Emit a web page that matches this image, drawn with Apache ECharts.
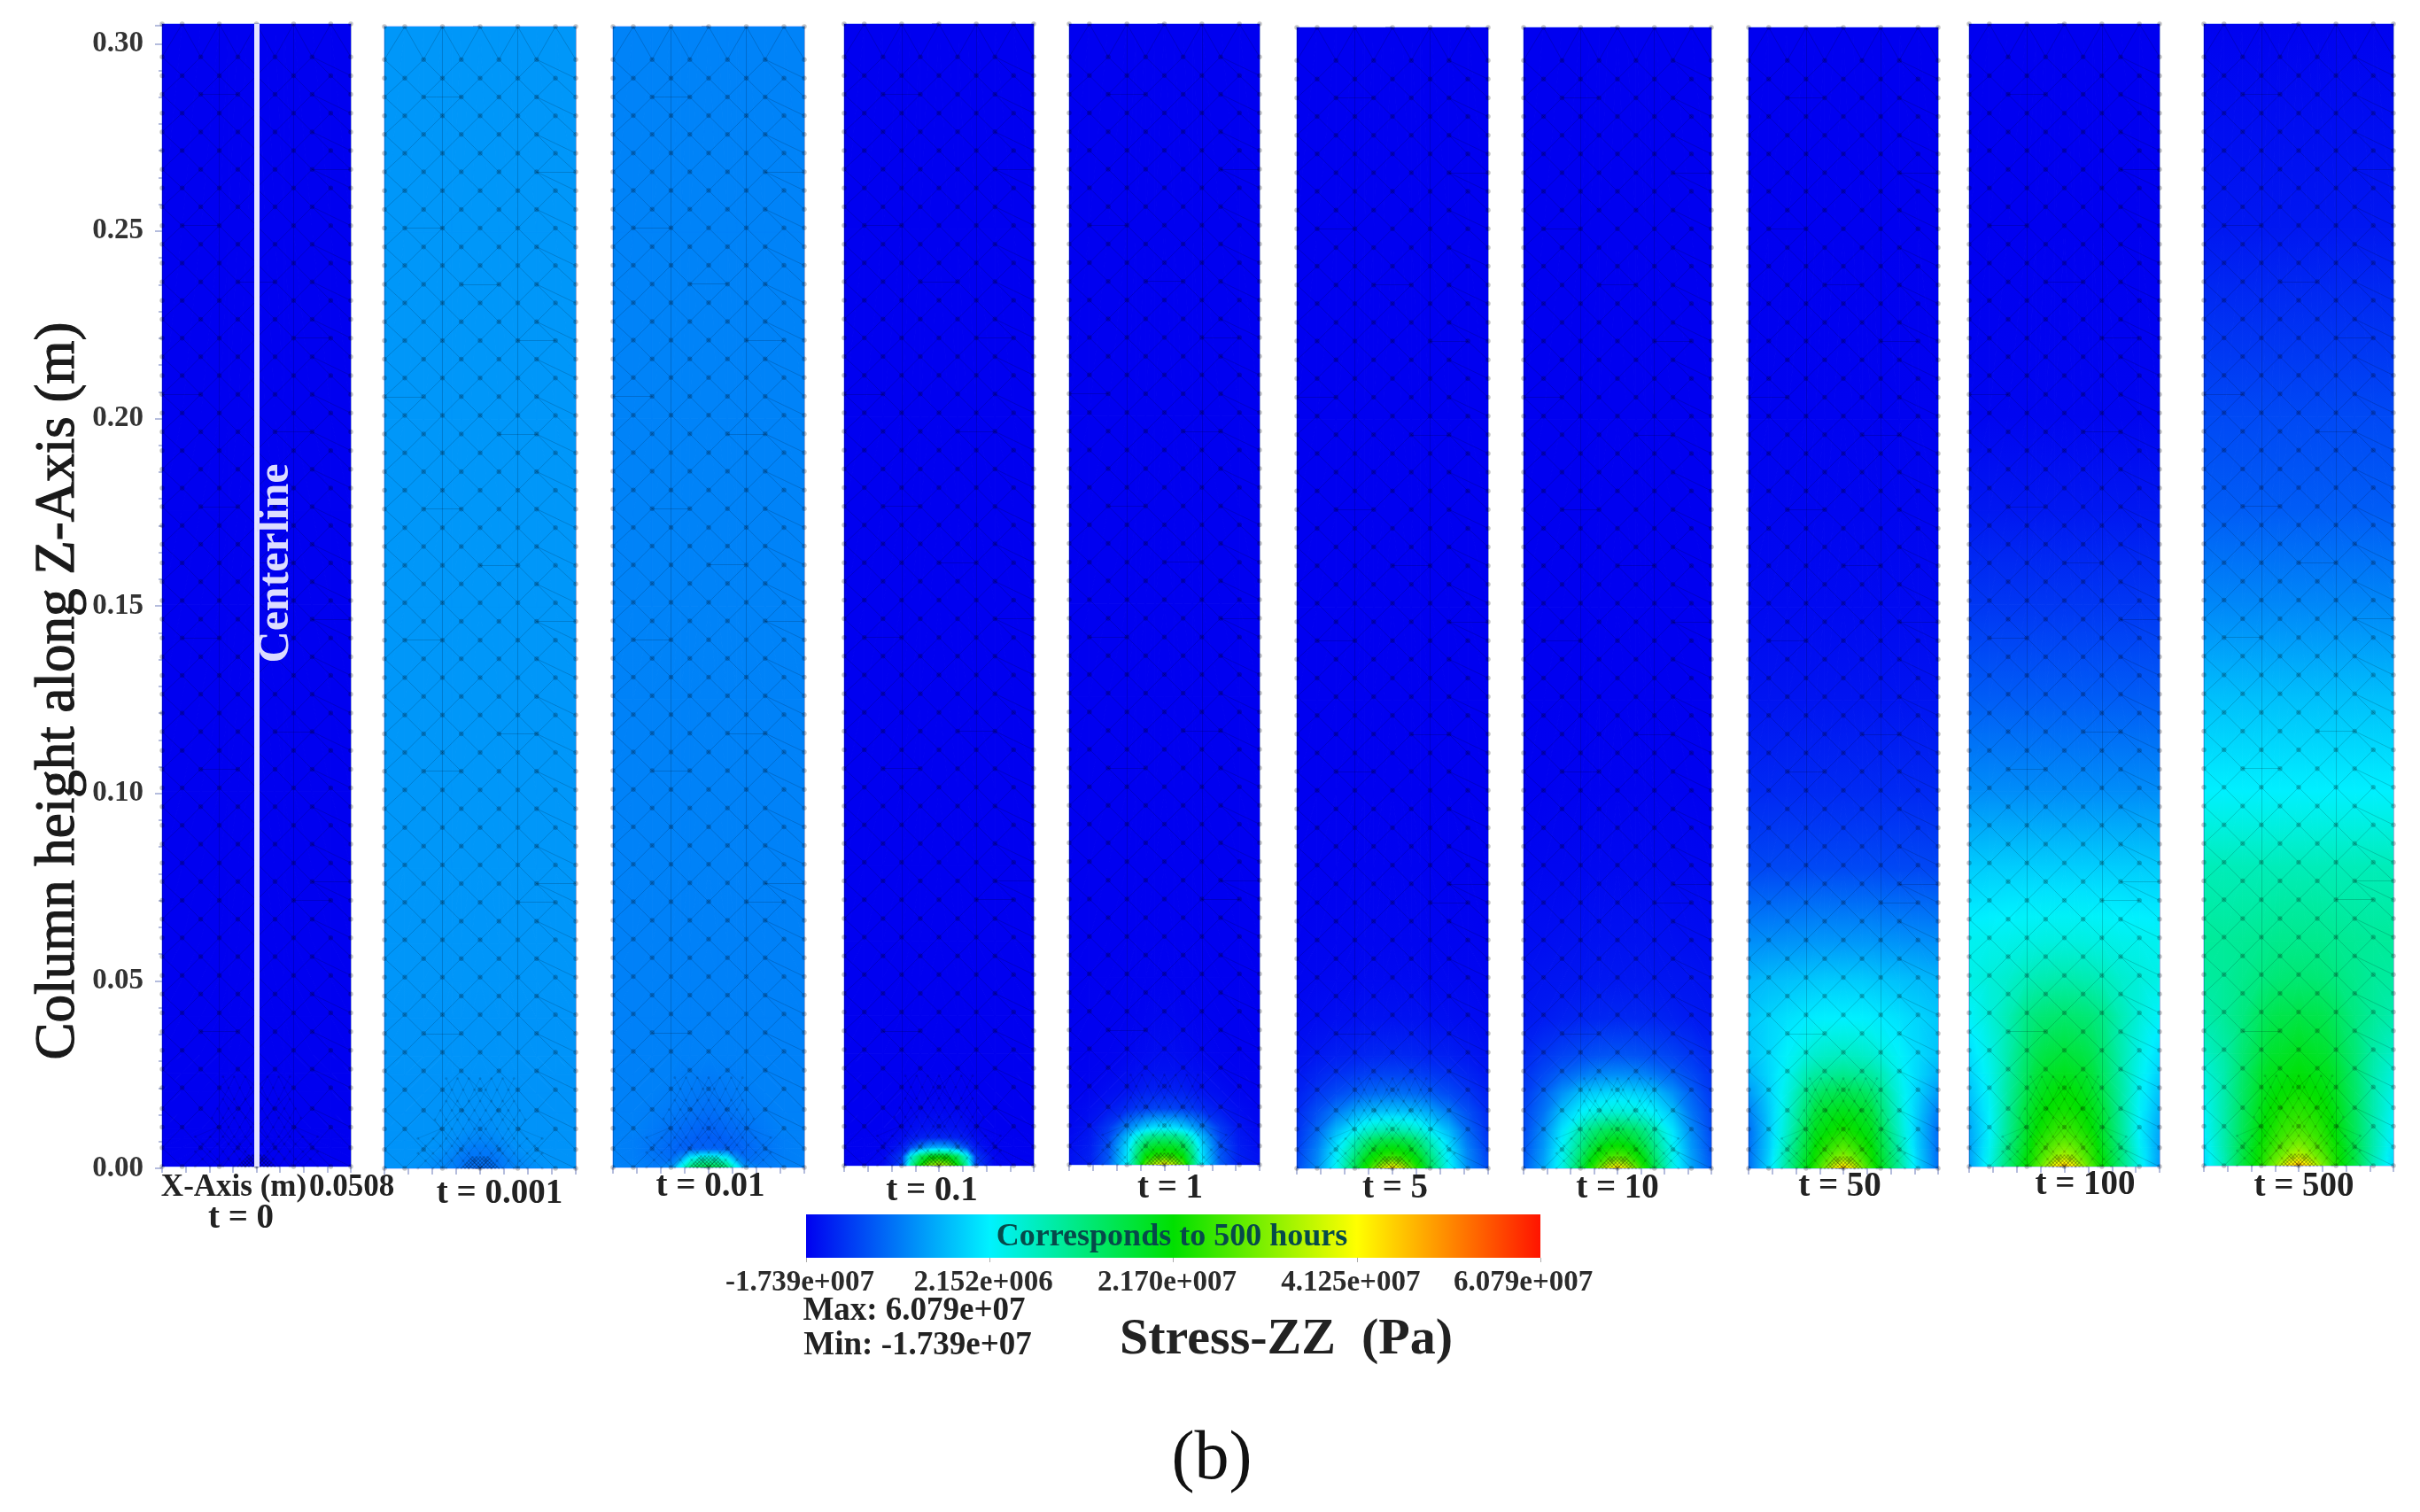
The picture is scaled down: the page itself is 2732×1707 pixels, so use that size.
<!DOCTYPE html>
<html>
<head>
<meta charset="utf-8">
<title>Stress-ZZ</title>
<script src="https://cdn.jsdelivr.net/npm/echarts@6/dist/echarts.min.js"></script>
<style>
  html, body { margin: 0; background: #fff; }
  #main { width: 2732px; height: 1707px; }
</style>
</head>
<body>
<div id="main"></div>
<script>
// all stresses in units of 1e7 Pa
const panelLabels = ['t = 0', 't = 0.001', 't = 0.01', 't = 0.1', 't = 1', 't = 5', 't = 10', 't = 50', 't = 100', 't = 500']
const heightRows = [0, 0.0025, 0.005, 0.0075, 0.01, 0.015, 0.02, 0.025, 0.03, 0.04, 0.05, 0.06, 0.08, 0.10, 0.125, 0.15, 0.175, 0.20, 0.25, 0.3048]
const radiusCols = [0, 0.005, 0.01, 0.015, 0.02, 0.03, 0.04, 0.0508]
const legendTicks = [-1.739, 0.2152, 2.17, 4.125, 6.079]
const legendLabels = ['-1.739e+007', '2.152e+006', '2.170e+007', '4.125e+007', '6.079e+007   ']
const legendColors = ['#0000f0', '#00f2ff', '#00e000', '#ffff00', '#ff1400']

const stressT0 = [
  [-1.739, -1.739, -1.739, -1.739, -1.739, -1.739, -1.739, -1.739],
  [-1.739, -1.739, -1.739, -1.739, -1.739, -1.739, -1.739, -1.739],
  [-1.739, -1.739, -1.739, -1.739, -1.739, -1.739, -1.739, -1.739],
  [-1.739, -1.739, -1.739, -1.739, -1.739, -1.739, -1.739, -1.739],
  [-1.739, -1.739, -1.739, -1.739, -1.739, -1.739, -1.739, -1.739],
  [-1.739, -1.739, -1.739, -1.739, -1.739, -1.739, -1.739, -1.739],
  [-1.739, -1.739, -1.739, -1.739, -1.739, -1.739, -1.739, -1.739],
  [-1.739, -1.739, -1.739, -1.739, -1.739, -1.739, -1.739, -1.739],
  [-1.739, -1.739, -1.739, -1.739, -1.739, -1.739, -1.739, -1.739],
  [-1.739, -1.739, -1.739, -1.739, -1.739, -1.739, -1.739, -1.739],
  [-1.739, -1.739, -1.739, -1.739, -1.739, -1.739, -1.739, -1.739],
  [-1.739, -1.739, -1.739, -1.739, -1.739, -1.739, -1.739, -1.739],
  [-1.739, -1.739, -1.739, -1.739, -1.739, -1.739, -1.739, -1.739],
  [-1.739, -1.739, -1.739, -1.739, -1.739, -1.739, -1.739, -1.739],
  [-1.739, -1.739, -1.739, -1.739, -1.739, -1.739, -1.739, -1.739],
  [-1.739, -1.739, -1.739, -1.739, -1.739, -1.739, -1.739, -1.739],
  [-1.739, -1.739, -1.739, -1.739, -1.739, -1.739, -1.739, -1.739],
  [-1.739, -1.739, -1.739, -1.739, -1.739, -1.739, -1.739, -1.739],
  [-1.739, -1.739, -1.739, -1.739, -1.739, -1.739, -1.739, -1.739],
  [-1.739, -1.739, -1.739, -1.739, -1.739, -1.739, -1.739, -1.739]
]
const stressT0001 = [
  [-0.85, -0.85, -0.8, -0.72, -0.66, -0.6, -0.55, -0.55],
  [-0.82, -0.82, -0.78, -0.7, -0.63, -0.55, -0.55, -0.55],
  [-0.76, -0.75, -0.7, -0.63, -0.58, -0.55, -0.55, -0.55],
  [-0.68, -0.66, -0.63, -0.59, -0.56, -0.55, -0.55, -0.55],
  [-0.62, -0.6, -0.58, -0.56, -0.55, -0.55, -0.55, -0.55],
  [-0.57, -0.57, -0.56, -0.55, -0.55, -0.55, -0.55, -0.55],
  [-0.55, -0.55, -0.55, -0.55, -0.55, -0.55, -0.55, -0.55],
  [-0.55, -0.55, -0.55, -0.55, -0.55, -0.55, -0.55, -0.55],
  [-0.54, -0.54, -0.54, -0.54, -0.54, -0.54, -0.54, -0.54],
  [-0.54, -0.54, -0.54, -0.54, -0.54, -0.54, -0.54, -0.54],
  [-0.53, -0.53, -0.53, -0.53, -0.53, -0.53, -0.53, -0.53],
  [-0.53, -0.53, -0.53, -0.53, -0.53, -0.53, -0.53, -0.53],
  [-0.52, -0.52, -0.52, -0.52, -0.52, -0.52, -0.52, -0.52],
  [-0.52, -0.52, -0.52, -0.52, -0.52, -0.52, -0.52, -0.52],
  [-0.52, -0.52, -0.52, -0.52, -0.52, -0.52, -0.52, -0.52],
  [-0.52, -0.52, -0.52, -0.52, -0.52, -0.52, -0.52, -0.52],
  [-0.52, -0.52, -0.52, -0.52, -0.52, -0.52, -0.52, -0.52],
  [-0.52, -0.52, -0.52, -0.52, -0.52, -0.52, -0.52, -0.52],
  [-0.52, -0.52, -0.52, -0.52, -0.52, -0.52, -0.52, -0.52],
  [-0.52, -0.52, -0.52, -0.52, -0.52, -0.52, -0.52, -0.52]
]
const stressT001 = [
  [1.6, 1.5, 1.2, 0.3, -0.6, -0.75, -0.7, -0.7],
  [0.6, 0.5, 0.2, -0.6, -0.85, -0.78, -0.72, -0.7],
  [-0.95, -0.95, -0.95, -0.95, -0.9, -0.8, -0.72, -0.7],
  [-0.98, -0.98, -0.95, -0.92, -0.87, -0.78, -0.72, -0.7],
  [-0.95, -0.93, -0.9, -0.87, -0.83, -0.75, -0.7, -0.7],
  [-0.85, -0.83, -0.8, -0.78, -0.75, -0.72, -0.7, -0.7],
  [-0.78, -0.77, -0.75, -0.74, -0.72, -0.7, -0.7, -0.7],
  [-0.74, -0.73, -0.72, -0.72, -0.7, -0.7, -0.7, -0.7],
  [-0.7, -0.7, -0.7, -0.7, -0.7, -0.7, -0.7, -0.7],
  [-0.7, -0.7, -0.7, -0.7, -0.7, -0.7, -0.7, -0.7],
  [-0.7, -0.7, -0.7, -0.7, -0.7, -0.7, -0.7, -0.7],
  [-0.7, -0.7, -0.7, -0.7, -0.7, -0.7, -0.7, -0.7],
  [-0.69, -0.69, -0.69, -0.69, -0.69, -0.69, -0.69, -0.69],
  [-0.69, -0.69, -0.69, -0.69, -0.69, -0.69, -0.69, -0.69],
  [-0.69, -0.69, -0.69, -0.69, -0.69, -0.69, -0.69, -0.69],
  [-0.68, -0.68, -0.68, -0.68, -0.68, -0.68, -0.68, -0.68],
  [-0.68, -0.68, -0.68, -0.68, -0.68, -0.68, -0.68, -0.68],
  [-0.68, -0.68, -0.68, -0.68, -0.68, -0.68, -0.68, -0.68],
  [-0.68, -0.68, -0.68, -0.68, -0.68, -0.68, -0.68, -0.68],
  [-0.68, -0.68, -0.68, -0.68, -0.68, -0.68, -0.68, -0.68]
]
const stressT01 = [
  [3.6, 3.2, 2.2, 1.0, -1.2, -1.7, -1.72, -1.72],
  [2.0, 1.9, 1.4, 0.4, -1.3, -1.7, -1.73, -1.73],
  [-0.4, -0.5, -0.8, -1.2, -1.55, -1.72, -1.73, -1.73],
  [-1.45, -1.45, -1.5, -1.55, -1.65, -1.73, -1.739, -1.739],
  [-1.6, -1.6, -1.62, -1.65, -1.7, -1.739, -1.739, -1.739],
  [-1.7, -1.7, -1.7, -1.72, -1.73, -1.739, -1.739, -1.739],
  [-1.73, -1.73, -1.73, -1.739, -1.739, -1.739, -1.739, -1.739],
  [-1.739, -1.739, -1.739, -1.739, -1.739, -1.739, -1.739, -1.739],
  [-1.739, -1.739, -1.739, -1.739, -1.739, -1.739, -1.739, -1.739],
  [-1.739, -1.739, -1.739, -1.739, -1.739, -1.739, -1.739, -1.739],
  [-1.739, -1.739, -1.739, -1.739, -1.739, -1.739, -1.739, -1.739],
  [-1.739, -1.739, -1.739, -1.739, -1.739, -1.739, -1.739, -1.739],
  [-1.739, -1.739, -1.739, -1.739, -1.739, -1.739, -1.739, -1.739],
  [-1.739, -1.739, -1.739, -1.739, -1.739, -1.739, -1.739, -1.739],
  [-1.739, -1.739, -1.739, -1.739, -1.739, -1.739, -1.739, -1.739],
  [-1.739, -1.739, -1.739, -1.739, -1.739, -1.739, -1.739, -1.739],
  [-1.739, -1.739, -1.739, -1.739, -1.739, -1.739, -1.739, -1.739],
  [-1.739, -1.739, -1.739, -1.739, -1.739, -1.739, -1.739, -1.739],
  [-1.739, -1.739, -1.739, -1.739, -1.739, -1.739, -1.739, -1.739],
  [-1.739, -1.739, -1.739, -1.739, -1.739, -1.739, -1.739, -1.739]
]
const stressT1 = [
  [4.2, 3.6, 2.8, 1.4, 0.2, -1.0, -1.5, -1.6],
  [2.5, 2.4, 2.1, 1.2, 0.1, -1.05, -1.5, -1.62],
  [1.9, 1.85, 1.6, 0.9, 0.0, -1.1, -1.52, -1.65],
  [1.2, 1.15, 0.95, 0.4, -0.25, -1.2, -1.55, -1.67],
  [0.1, 0.05, -0.1, -0.4, -0.7, -1.3, -1.58, -1.68],
  [-1.2, -1.2, -1.25, -1.3, -1.4, -1.55, -1.65, -1.7],
  [-1.5, -1.5, -1.5, -1.55, -1.6, -1.65, -1.7, -1.72],
  [-1.6, -1.6, -1.62, -1.63, -1.65, -1.7, -1.72, -1.73],
  [-1.65, -1.65, -1.67, -1.68, -1.7, -1.72, -1.73, -1.73],
  [-1.7, -1.7, -1.71, -1.72, -1.72, -1.73, -1.73, -1.739],
  [-1.73, -1.73, -1.73, -1.73, -1.73, -1.739, -1.739, -1.739],
  [-1.739, -1.739, -1.739, -1.739, -1.739, -1.739, -1.739, -1.739],
  [-1.739, -1.739, -1.739, -1.739, -1.739, -1.739, -1.739, -1.739],
  [-1.739, -1.739, -1.739, -1.739, -1.739, -1.739, -1.739, -1.739],
  [-1.739, -1.739, -1.739, -1.739, -1.739, -1.739, -1.739, -1.739],
  [-1.739, -1.739, -1.739, -1.739, -1.739, -1.739, -1.739, -1.739],
  [-1.739, -1.739, -1.739, -1.739, -1.739, -1.739, -1.739, -1.739],
  [-1.739, -1.739, -1.739, -1.739, -1.739, -1.739, -1.739, -1.739],
  [-1.739, -1.739, -1.739, -1.739, -1.739, -1.739, -1.739, -1.739],
  [-1.739, -1.739, -1.739, -1.739, -1.739, -1.739, -1.739, -1.739]
]
const stressT5 = [
  [4.4, 3.8, 2.9, 2.2, 1.5, 0.3, -0.6, -1.15],
  [2.8, 2.6, 2.3, 1.9, 1.3, 0.2, -0.65, -1.2],
  [2.2, 2.1, 1.9, 1.5, 1.0, 0.1, -0.7, -1.25],
  [1.65, 1.6, 1.45, 1.1, 0.7, -0.05, -0.8, -1.3],
  [0.9, 0.85, 0.75, 0.55, 0.25, -0.25, -0.9, -1.33],
  [-0.15, -0.17, -0.2, -0.28, -0.4, -0.75, -1.1, -1.4],
  [-0.85, -0.85, -0.88, -0.92, -1.0, -1.15, -1.3, -1.48],
  [-1.2, -1.2, -1.22, -1.25, -1.28, -1.35, -1.45, -1.55],
  [-1.42, -1.42, -1.43, -1.45, -1.47, -1.5, -1.55, -1.6],
  [-1.6, -1.6, -1.6, -1.6, -1.62, -1.63, -1.65, -1.67],
  [-1.67, -1.67, -1.67, -1.67, -1.68, -1.68, -1.69, -1.7],
  [-1.7, -1.7, -1.7, -1.7, -1.7, -1.71, -1.71, -1.72],
  [-1.72, -1.72, -1.72, -1.72, -1.72, -1.73, -1.73, -1.73],
  [-1.739, -1.739, -1.739, -1.739, -1.739, -1.739, -1.739, -1.739],
  [-1.739, -1.739, -1.739, -1.739, -1.739, -1.739, -1.739, -1.739],
  [-1.739, -1.739, -1.739, -1.739, -1.739, -1.739, -1.739, -1.739],
  [-1.739, -1.739, -1.739, -1.739, -1.739, -1.739, -1.739, -1.739],
  [-1.739, -1.739, -1.739, -1.739, -1.739, -1.739, -1.739, -1.739],
  [-1.739, -1.739, -1.739, -1.739, -1.739, -1.739, -1.739, -1.739],
  [-1.739, -1.739, -1.739, -1.739, -1.739, -1.739, -1.739, -1.739]
]
const stressT10 = [
  [4.5, 3.9, 3.0, 2.3, 1.6, 0.4, -0.4, -1.0],
  [3.0, 2.8, 2.4, 2.0, 1.4, 0.35, -0.45, -1.05],
  [2.4, 2.3, 2.1, 1.7, 1.2, 0.3, -0.5, -1.1],
  [2.0, 1.9, 1.7, 1.4, 1.0, 0.2, -0.55, -1.12],
  [1.6, 1.55, 1.4, 1.15, 0.8, 0.1, -0.62, -1.15],
  [0.55, 0.5, 0.45, 0.35, 0.2, -0.2, -0.8, -1.2],
  [0.0, 0.0, -0.05, -0.1, -0.2, -0.55, -0.95, -1.28],
  [-0.6, -0.62, -0.65, -0.7, -0.78, -0.95, -1.15, -1.35],
  [-1.05, -1.05, -1.07, -1.1, -1.13, -1.2, -1.3, -1.42],
  [-1.42, -1.42, -1.43, -1.44, -1.45, -1.48, -1.52, -1.55],
  [-1.55, -1.55, -1.55, -1.56, -1.56, -1.57, -1.58, -1.6],
  [-1.6, -1.6, -1.6, -1.6, -1.61, -1.62, -1.63, -1.64],
  [-1.68, -1.68, -1.68, -1.68, -1.68, -1.69, -1.69, -1.7],
  [-1.72, -1.72, -1.72, -1.72, -1.72, -1.72, -1.73, -1.73],
  [-1.739, -1.739, -1.739, -1.739, -1.739, -1.739, -1.739, -1.739],
  [-1.739, -1.739, -1.739, -1.739, -1.739, -1.739, -1.739, -1.739],
  [-1.739, -1.739, -1.739, -1.739, -1.739, -1.739, -1.739, -1.739],
  [-1.739, -1.739, -1.739, -1.739, -1.739, -1.739, -1.739, -1.739],
  [-1.739, -1.739, -1.739, -1.739, -1.739, -1.739, -1.739, -1.739],
  [-1.739, -1.739, -1.739, -1.739, -1.739, -1.739, -1.739, -1.739]
]
const stressT50 = [
  [4.6, 4.0, 3.1, 2.5, 2.0, 1.0, 0.0, -0.85],
  [3.4, 3.1, 2.7, 2.3, 1.85, 0.95, -0.05, -0.85],
  [2.9, 2.7, 2.45, 2.2, 1.75, 0.85, -0.1, -0.85],
  [2.6, 2.45, 2.3, 2.05, 1.65, 0.75, -0.12, -0.85],
  [2.35, 2.25, 2.1, 1.95, 1.55, 0.65, -0.14, -0.85],
  [2.0, 1.95, 1.85, 1.7, 1.3, 0.55, -0.12, -0.72],
  [1.6, 1.55, 1.5, 1.35, 1.1, 0.45, -0.05, -0.5],
  [1.1, 1.05, 1.0, 0.95, 0.8, 0.35, 0.0, -0.3],
  [0.7, 0.68, 0.65, 0.6, 0.5, 0.25, 0.02, -0.15],
  [0.2, 0.2, 0.2, 0.18, 0.15, 0.08, -0.02, -0.12],
  [-0.1, -0.1, -0.1, -0.12, -0.14, -0.18, -0.22, -0.28],
  [-0.5, -0.5, -0.5, -0.5, -0.52, -0.54, -0.56, -0.58],
  [-1.15, -1.15, -1.15, -1.15, -1.15, -1.16, -1.16, -1.17],
  [-1.4, -1.4, -1.4, -1.4, -1.4, -1.4, -1.41, -1.41],
  [-1.58, -1.58, -1.58, -1.58, -1.58, -1.58, -1.58, -1.58],
  [-1.67, -1.67, -1.67, -1.67, -1.67, -1.67, -1.67, -1.67],
  [-1.7, -1.7, -1.7, -1.7, -1.7, -1.7, -1.7, -1.7],
  [-1.72, -1.72, -1.72, -1.72, -1.72, -1.72, -1.72, -1.72],
  [-1.739, -1.739, -1.739, -1.739, -1.739, -1.739, -1.739, -1.739],
  [-1.739, -1.739, -1.739, -1.739, -1.739, -1.739, -1.739, -1.739]
]
const stressT100 = [
  [4.7, 4.2, 3.3, 2.7, 2.2, 1.3, 0.4, -0.5],
  [3.6, 3.3, 2.9, 2.5, 2.1, 1.25, 0.35, -0.45],
  [3.1, 2.95, 2.7, 2.4, 2.0, 1.2, 0.3, -0.45],
  [2.8, 2.7, 2.5, 2.3, 1.9, 1.1, 0.25, -0.42],
  [2.6, 2.5, 2.35, 2.15, 1.85, 1.05, 0.22, -0.38],
  [2.3, 2.25, 2.15, 2.0, 1.75, 1.0, 0.25, -0.28],
  [2.15, 2.1, 2.0, 1.85, 1.6, 0.95, 0.3, -0.18],
  [1.95, 1.9, 1.85, 1.7, 1.45, 0.9, 0.35, -0.05],
  [1.75, 1.7, 1.65, 1.55, 1.35, 0.85, 0.4, 0.05],
  [1.35, 1.33, 1.3, 1.25, 1.15, 0.8, 0.5, 0.25],
  [0.85, 0.85, 0.82, 0.8, 0.75, 0.6, 0.5, 0.4],
  [0.45, 0.45, 0.45, 0.43, 0.42, 0.38, 0.35, 0.32],
  [-0.08, -0.08, -0.08, -0.08, -0.08, -0.09, -0.09, -0.1],
  [-0.6, -0.6, -0.6, -0.6, -0.6, -0.6, -0.6, -0.6],
  [-1.0, -1.0, -1.0, -1.0, -1.0, -1.0, -1.0, -1.0],
  [-1.3, -1.3, -1.3, -1.3, -1.3, -1.3, -1.3, -1.3],
  [-1.55, -1.55, -1.55, -1.55, -1.55, -1.55, -1.55, -1.55],
  [-1.7, -1.7, -1.7, -1.7, -1.7, -1.7, -1.7, -1.7],
  [-1.739, -1.739, -1.739, -1.739, -1.739, -1.739, -1.739, -1.739],
  [-1.739, -1.739, -1.739, -1.739, -1.739, -1.739, -1.739, -1.739]
]
const stressT500 = [
  [4.8, 4.3, 3.5, 2.9, 2.4, 1.7, 0.8, 0.0],
  [3.7, 3.4, 3.0, 2.7, 2.3, 1.65, 0.8, 0.05],
  [3.2, 3.0, 2.8, 2.5, 2.25, 1.6, 0.85, 0.12],
  [2.9, 2.8, 2.6, 2.4, 2.15, 1.55, 0.85, 0.18],
  [2.7, 2.6, 2.5, 2.3, 2.1, 1.5, 0.85, 0.22],
  [2.45, 2.4, 2.3, 2.2, 2.0, 1.45, 0.85, 0.3],
  [2.25, 2.2, 2.15, 2.05, 1.9, 1.4, 0.85, 0.4],
  [2.1, 2.05, 2.0, 1.95, 1.8, 1.35, 0.85, 0.5],
  [1.95, 1.9, 1.85, 1.8, 1.65, 1.3, 0.9, 0.65],
  [1.65, 1.6, 1.6, 1.55, 1.45, 1.2, 1.0, 0.85],
  [1.3, 1.3, 1.28, 1.25, 1.2, 1.1, 1.0, 0.95],
  [1.1, 1.1, 1.1, 1.08, 1.06, 1.03, 1.0, 1.0],
  [0.75, 0.75, 0.75, 0.75, 0.75, 0.75, 0.75, 0.75],
  [0.2, 0.2, 0.2, 0.2, 0.2, 0.2, 0.2, 0.2],
  [-0.2, -0.2, -0.2, -0.2, -0.2, -0.2, -0.2, -0.2],
  [-0.65, -0.65, -0.65, -0.65, -0.65, -0.65, -0.65, -0.65],
  [-1.0, -1.0, -1.0, -1.0, -1.0, -1.0, -1.0, -1.0],
  [-1.15, -1.15, -1.15, -1.15, -1.15, -1.15, -1.15, -1.15],
  [-1.55, -1.55, -1.55, -1.55, -1.55, -1.55, -1.55, -1.55],
  [-1.72, -1.72, -1.72, -1.72, -1.72, -1.72, -1.72, -1.72]
]
const panelStress = [stressT0, stressT0001, stressT001, stressT01, stressT1, stressT5, stressT10, stressT50, stressT100, stressT500]

// finite element mesh: half rows of nodes, mirrored about the centreline
const meshCols = {
  a: [0, 0.02, 0.04, 0.0508],
  b: [0.01, 0.03, 0.0508],
  c: [0, 0.006, 0.012, 0.018, 0.025, 0.033],
  d: [0.003, 0.009, 0.015, 0.021, 0.029],
  g: [0, 0.006, 0.012, 0.018, 0.024],
  h: [0.003, 0.009, 0.015, 0.021],
  i: [0, 0.006, 0.012, 0.018],
  j: [0.003, 0.009, 0.015],
  k: [0, 0.002, 0.004, 0.006, 0.008, 0.01],
  l: [0.001, 0.003, 0.005, 0.007, 0.009],
  m: [0, 0.002, 0.004, 0.006, 0.008],
  n: [0.001, 0.003, 0.005, 0.007],
  o: [0, 0.002, 0.004, 0.006],
  p: [0.001, 0.003, 0.005],
  q: [0, 0.002, 0.004]
}
// the three layers of the mesh: coarse everywhere, medium dome, fine core at the source
const meshCoarse = [[0, 'a'], [0.005, 'b'], [0.0105, 'a'], [0.0155, 'b'], [0.021, 'a'], [0.026, 'b'], [0.031, 'a'], [0.036, 'b'], [0.041, 'a'], [0.046, 'b'], [0.051, 'a'], [0.056, 'b'],
  [0.061, 'a'], [0.066, 'b'], [0.071, 'a'], [0.076, 'b'], [0.081, 'a'], [0.086, 'b'], [0.091, 'a'], [0.096, 'b'], [0.101, 'a'], [0.106, 'b'], [0.111, 'a'], [0.116, 'b'], [0.121, 'a'],
  [0.126, 'b'], [0.131, 'a'], [0.136, 'b'], [0.141, 'a'], [0.146, 'b'], [0.151, 'a'], [0.156, 'b'], [0.161, 'a'], [0.166, 'b'], [0.171, 'a'], [0.176, 'b'], [0.181, 'a'], [0.186, 'b'],
  [0.191, 'a'], [0.196, 'b'], [0.201, 'a'], [0.206, 'b'], [0.211, 'a'], [0.216, 'b'], [0.221, 'a'], [0.226, 'b'], [0.231, 'a'], [0.236, 'b'], [0.241, 'a'], [0.246, 'b'], [0.251, 'a'],
  [0.256, 'b'], [0.261, 'a'], [0.266, 'b'], [0.271, 'a'], [0.276, 'b'], [0.281, 'a'], [0.286, 'b'], [0.291, 'a'], [0.296, 'b'], [0.3048, 'a']]
const meshDome = [[0, 'c'], [0.002, 'd'], [0.004, 'c'], [0.006, 'd'], [0.008, 'c'], [0.0105, 'h'], [0.013, 'g'], [0.0155, 'h'], [0.018, 'i'], [0.021, 'j'], [0.024, 'i']]
const meshCore = [[0, 'k'], [0.0005, 'l'], [0.001, 'm'], [0.0015, 'n'], [0.002, 'o'], [0.0025, 'p'], [0.003, 'q']]
const meshVerticalCols = [-0.02, 0.02]
// the few horizontal element edges that stand out: height, from, to
const meshHorizontals = [[0.036, -0.03, -0.01], [0.071, 0.02, 0.04], [0.076, 0.03, 0.0508], [0.106, -0.03, -0.01], [0.116, 0.01, 0.03], [0.141, -0.04, -0.02], [0.146, 0.03, 0.0508],
  [0.161, 0, 0.02], [0.176, -0.03, -0.01], [0.196, 0.01, 0.03], [0.206, -0.0508, -0.03], [0.221, 0.02, 0.04], [0.236, -0.01, 0.01], [0.251, -0.04, -0.02], [0.266, 0.03, 0.0508], [0.286, -0.03, -0.01]]

// layout, in pixels of the page: left, right, top, bottom of every panel
const panelBoxes = [
  [183, 396, 27, 1317], [434, 650, 30, 1319], [692, 908, 30, 1318], [953, 1167, 27, 1316], [1207, 1422, 27, 1315],
  [1464, 1680, 31, 1319], [1720, 1932, 31, 1319], [1974, 2188, 31, 1319], [2223, 2438, 27, 1317], [2488, 2702, 27, 1316]
]
const panelLabelPos = [[272, 1376], [564, 1348], [802, 1340], [1052, 1345], [1321, 1342], [1575, 1342], [1826, 1342], [2077, 1340], [2354, 1338], [2601, 1340]]
const textFont = '"Liberation Serif", serif'
const legendMin = legendTicks[0]
const legendMax = legendTicks[legendTicks.length - 1]

function stressColor (v) {
  const t = Math.min(1, Math.max(0, (v - legendMin) / (legendMax - legendMin)))
  return echarts.color.lerp(t, legendColors)
}

// a triangle with nodal values has a linear field, so one linear gradient shades it exactly
function triangleFill (p, v) {
  const d = (p[1][0] - p[0][0]) * (p[2][1] - p[0][1]) - (p[2][0] - p[0][0]) * (p[1][1] - p[0][1])
  const vMin = Math.min(v[0], v[1], v[2])
  const vMax = Math.max(v[0], v[1], v[2])
  if (Math.abs(d) < 1e-6 || vMax - vMin < 1e-4) return stressColor(v[0])
  const gx = ((v[1] - v[0]) * (p[2][1] - p[0][1]) - (v[2] - v[0]) * (p[1][1] - p[0][1])) / d
  const gy = ((v[2] - v[0]) * (p[1][0] - p[0][0]) - (v[1] - v[0]) * (p[2][0] - p[0][0])) / d
  const g2 = gx * gx + gy * gy
  const a = (vMin - v[0]) / g2
  const b = (vMax - v[0]) / g2
  const n = Math.ceil((vMax - vMin) / 0.4) + 1
  const stops = []
  for (let i = 0; i <= n; i++) {
    stops.push({ offset: i / n, color: stressColor(vMin + (vMax - vMin) * i / n) })
  }
  return new echarts.graphic.LinearGradient(p[0][0] + gx * a, p[0][1] + gy * a, p[0][0] + gx * b, p[0][1] + gy * b, stops, true)
}

function renderTriangle (params, api) {
  const p = [api.coord([api.value(0), api.value(1)]), api.coord([api.value(3), api.value(4)]), api.coord([api.value(6), api.value(7)])]
  const fill = triangleFill(p, [api.value(2), api.value(5), api.value(8)])
  return { type: 'polygon', silent: true, shape: { points: p }, style: { fill: fill, stroke: fill, lineWidth: 1 } }
}

function fieldTriangles (table) {
  const cols = radiusCols.slice(1).reverse().map(function (x) { return -x }).concat(radiusCols)
  const col = function (r, i) {
    return table[r][Math.abs(i - radiusCols.length + 1)]
  }
  const out = []
  for (let r = 0; r < heightRows.length - 1; r++) {
    for (let i = 0; i < cols.length - 1; i++) {
      const n = [cols[i], heightRows[r], col(r, i)]
      const m = [cols[i + 1], heightRows[r], col(r, i + 1)]
      const u = [cols[i], heightRows[r + 1], col(r + 1, i)]
      const w = [cols[i + 1], heightRows[r + 1], col(r + 1, i + 1)]
      if (cols[i] < 0) {
        out.push(n.concat(m, w), n.concat(w, u))
      } else {
        out.push(n.concat(m, u), m.concat(w, u))
      }
    }
  }
  return out
}

function meshRow (kind) {
  const half = meshCols[kind]
  const right = half[0] === 0 ? half.slice(1) : half
  return half.slice().reverse().map(function (x) { return x === 0 ? 0 : -x }).concat(right)
}

// rows only get their zigzag to the next row, plus the long verticals seen in the coarse part
function addMeshLayer (rows, edges, nodes) {
  rows.forEach(function (item, r) {
    const z = item[0]
    const row = meshRow(item[1])
    row.forEach(function (x) { nodes.push([x, z]) })
    if (r === rows.length - 1) return
    const next = meshRow(rows[r + 1][1])
    const z2 = rows[r + 1][0]
    let i = 0
    let j = 0
    edges.push({ coords: [[row[0], z], [next[0], z2]] })
    while (i < row.length - 1 || j < next.length - 1) {
      if (j === next.length - 1 || (i < row.length - 1 && row[i + 1] <= next[j + 1])) i++
      else j++
      edges.push({ coords: [[row[i], z], [next[j], z2]] })
    }
    if (r < rows.length - 2 && item[1] === 'a') {
      meshVerticalCols.forEach(function (x) {
        edges.push({ coords: [[x, z], [x, rows[r + 2][0]]] })
      })
    }
  })
}

const coarseEdges = []
const coarseNodes = []
const domeEdges = []
const domeNodes = []
const coreEdges = []
const coreNodes = []
addMeshLayer(meshCoarse, coarseEdges, coarseNodes)
addMeshLayer(meshDome, domeEdges, domeNodes)
addMeshLayer(meshCore, coreEdges, coreNodes)
meshHorizontals.forEach(function (h) {
  coarseEdges.push({ coords: [[h[1], h[0]], [h[2], h[0]]] })
})

const grids = []
const xAxes = []
const yAxes = []
const series = []
const tickStyle = { color: 'rgba(70,90,170,0.4)', width: 2 }

function meshSeries (k, edges, nodes, lineOpacity, dotSize, dotColor) {
  series.push({
    type: 'lines', coordinateSystem: 'cartesian2d', xAxisIndex: k, yAxisIndex: k, z: 3, silent: true,
    lineStyle: { color: '#000', width: 1, opacity: lineOpacity }, data: edges
  })
  series.push({
    type: 'scatter', xAxisIndex: k, yAxisIndex: k, z: 4, silent: true, symbolSize: dotSize,
    itemStyle: { color: dotColor }, data: nodes
  })
}

panelBoxes.forEach(function (box, k) {
  grids.push({ left: box[0], width: box[1] - box[0], top: box[2], height: box[3] - box[2], show: true, borderWidth: 2, borderColor: 'rgba(120,150,255,0.45)', backgroundColor: 'transparent' })
  xAxes.push({
    gridIndex: k, type: 'value', min: -0.0508, max: 0.0508, interval: 0.0127,
    axisLine: { show: false }, splitLine: { show: false }, axisLabel: { show: false },
    axisTick: { show: true, length: 7, lineStyle: tickStyle }
  })
  yAxes.push({
    gridIndex: k, type: 'value', min: 0, max: 0.3048, interval: 0.05,
    axisLine: { show: false }, splitLine: { show: false }, axisLabel: { show: false },
    axisTick: { show: k > 0, length: 8, lineStyle: tickStyle },
    minorTick: { show: k > 0, splitNumber: 7, length: 4, lineStyle: tickStyle }
  })
  series.push({
    type: 'custom', name: panelLabels[k], xAxisIndex: k, yAxisIndex: k, z: 2, silent: true,
    renderItem: renderTriangle, data: fieldTriangles(panelStress[k]), clip: true
  })
  meshSeries(k, coarseEdges, coarseNodes, 0.17, 5.5, 'rgba(0,0,0,0.28)')
  meshSeries(k, domeEdges, domeNodes, 0.1, 3, 'rgba(0,0,0,0.16)')
  meshSeries(k, coreEdges, coreNodes, 0.18, 2.5, 'rgba(0,0,0,0.22)')
})

// centreline of the first panel
series.push({
  type: 'lines', coordinateSystem: 'cartesian2d', xAxisIndex: 0, yAxisIndex: 0, z: 5, silent: true,
  lineStyle: { color: '#e4e4ff', width: 6, opacity: 1 },
  data: [{ coords: [[0, 0], [0, 0.3048]] }]
})

// the height scale sits a few pixels lower than the first panel, so it gets its own empty grid
const scaleIndex = panelBoxes.length
grids.push({ left: 183, width: 213, top: 29, height: 1290 })
xAxes.push({ gridIndex: scaleIndex, type: 'value', min: 0, max: 1, show: false })
yAxes.push({
  gridIndex: scaleIndex, type: 'value', min: 0, max: 0.3048, interval: 0.05,
  axisLine: { show: false }, splitLine: { show: false },
  axisTick: { show: true, length: 8, lineStyle: tickStyle },
  minorTick: { show: true, splitNumber: 7, length: 4, lineStyle: tickStyle },
  axisLabel: {
    showMaxLabel: false, margin: 21, color: '#333', fontFamily: textFont, fontWeight: 'bold', fontSize: 33,
    formatter: function (v) { return v.toFixed(2) }
  }
})

// colour bar
const barIndex = panelBoxes.length + 1
grids.push({ left: 910, width: 829, top: 1371, height: 49 })
xAxes.push({
  gridIndex: barIndex, type: 'value', min: legendMin, max: legendMax,
  axisLine: { show: false }, splitLine: { show: false },
  axisTick: { show: true, customValues: legendTicks, length: 5, lineStyle: { color: 'rgba(90,90,90,0.5)' } },
  axisLabel: {
    customValues: legendTicks, margin: 12, padding: [0, 14, 0, 0], color: '#2b2b2b', fontFamily: textFont, fontWeight: 'bold', fontSize: 33,
    formatter: function (v) {
      let best = 0
      legendTicks.forEach(function (t, i) { if (Math.abs(t - v) < Math.abs(legendTicks[best] - v)) best = i })
      return legendLabels[best]
    }
  }
})
yAxes.push({ gridIndex: barIndex, type: 'value', min: 0, max: 1, show: false })
series.push({
  type: 'custom', xAxisIndex: barIndex, yAxisIndex: barIndex, z: 2, silent: true,
  data: [[legendMin, 0, legendMax, 1]],
  renderItem: function (params, api) {
    const a = api.coord([api.value(0), api.value(3)])
    const b = api.coord([api.value(2), api.value(1)])
    const stops = legendColors.map(function (c, i) { return { offset: i / (legendColors.length - 1), color: c } })
    return {
      type: 'rect', silent: true,
      shape: { x: a[0], y: a[1], width: b[0] - a[0], height: b[1] - a[1] },
      style: { fill: new echarts.graphic.LinearGradient(0, 0, 1, 0, stops) }
    }
  }
})

function label (text, x, y, size, weight, color, rotation, heavy) {
  const style = { text: text, fill: color || '#222', font: (weight || 'bold') + ' ' + size + 'px ' + textFont, align: 'center', verticalAlign: 'middle' }
  if (heavy) {
    style.stroke = color
    style.lineWidth = heavy
  }
  return { type: 'text', x: x, y: y, rotation: rotation || 0, z: 20, silent: true, style: style }
}

const texts = panelLabels.map(function (t, k) {
  return label(t, panelLabelPos[k][0], panelLabelPos[k][1], 39)
})
texts.push(label('Column height along Z-Axis (m)', 66, 780, 63, 'normal', '#1a1a1a', Math.PI / 2, 1.2))
texts.push(label('Centerline', 312, 636, 50, 'bold', '#dcdcff', Math.PI / 2))
texts.push(label('X-Axis (m)', 264, 1341, 35))
texts.push(label('0.0508', 397, 1341, 35))
texts.push(label('Corresponds to 500 hours', 1323, 1397, 36, 'bold', '#064a4a'))
texts.push(label('Max: 6.079e+07', 1032, 1480, 37))
texts.push(label('Min: -1.739e+07', 1036, 1519, 37))
texts.push(label('Stress-ZZ  (Pa)', 1452, 1513, 58))
texts.push(label('(b)', 1368, 1649, 78, 'normal', '#111'))

const chart = echarts.init(document.getElementById('main'))
chart.setOption({
  animation: false,
  backgroundColor: '#ffffff',
  grid: grids,
  xAxis: xAxes,
  yAxis: yAxes,
  series: series,
  graphic: texts
})
window.addEventListener('resize', function () { chart.resize() })
</script>
</body>
</html>
